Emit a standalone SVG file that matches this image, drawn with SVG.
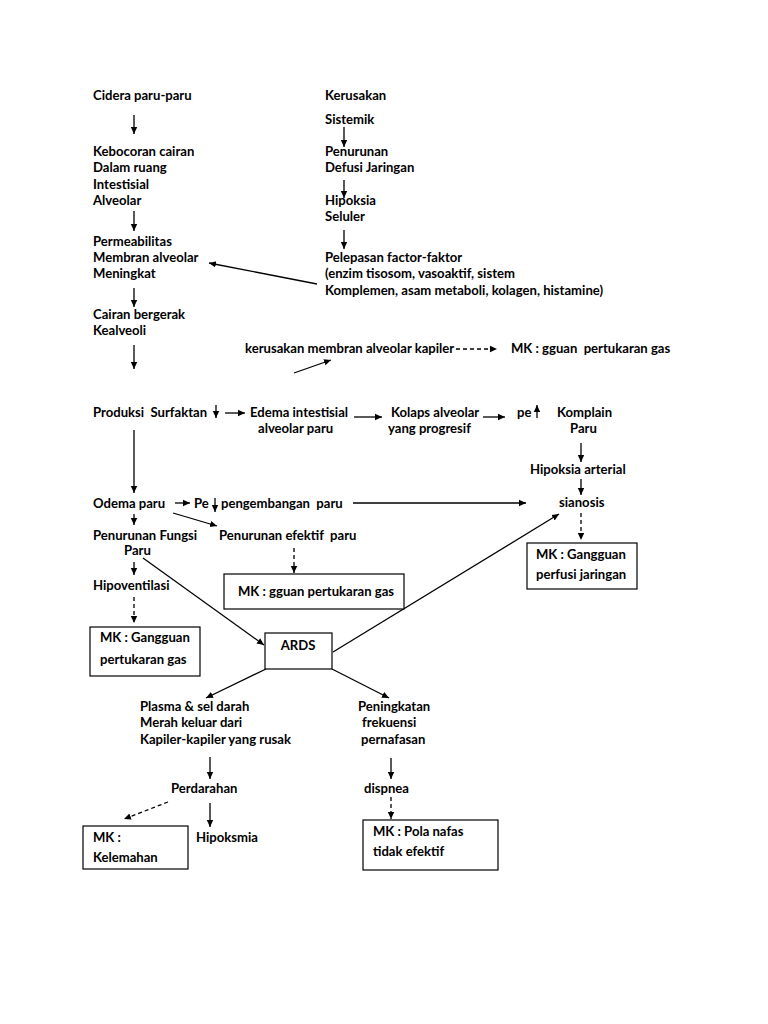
<svg xmlns="http://www.w3.org/2000/svg" width="768" height="1024" viewBox="0 0 768 1024">
<style>
text{font-family:Lato,"Liberation Sans",sans-serif;font-size:13.1px;font-weight:bold;fill:#000;white-space:pre}
.c{stroke:#000;stroke-width:1.3;fill:none}
.d{stroke:#000;stroke-width:1.3;fill:none;stroke-dasharray:4,3}
.b{stroke:#000;stroke-width:1.2;fill:#fff}
</style>
<defs>
<marker id="a" markerWidth="8" markerHeight="8" refX="7" refY="4" orient="auto" markerUnits="userSpaceOnUse">
<path d="M0,0.8 L7,4 L0,7.2 Z" fill="#000"/>
</marker>
</defs>
<rect width="768" height="1024" fill="#fff"/>
<g id="connectors">
<line class="c" x1="134" y1="115" x2="134" y2="134" marker-end="url(#a)"/>
<line class="c" x1="134" y1="211" x2="134" y2="231" marker-end="url(#a)"/>
<line class="c" x1="134" y1="288" x2="134" y2="307" marker-end="url(#a)"/>
<line class="c" x1="134" y1="345" x2="134" y2="369" marker-end="url(#a)"/>
<line class="c" x1="344" y1="127" x2="344" y2="147" marker-end="url(#a)"/>
<line class="c" x1="344" y1="180" x2="344" y2="198" marker-end="url(#a)"/>
<line class="c" x1="344" y1="230" x2="344" y2="249" marker-end="url(#a)"/>
<line class="c" x1="317" y1="284" x2="209" y2="263" marker-end="url(#a)"/>
<line class="d" x1="456" y1="349" x2="497" y2="349" marker-end="url(#a)"/>
<line class="c" x1="294" y1="373" x2="331" y2="360" marker-end="url(#a)"/>
<line class="c" x1="216" y1="405" x2="216" y2="418" marker-end="url(#a)"/>
<line class="c" x1="225" y1="413" x2="245" y2="413" marker-end="url(#a)"/>
<line class="c" x1="354" y1="417" x2="382" y2="417" marker-end="url(#a)"/>
<line class="c" x1="483" y1="417" x2="505" y2="417" marker-end="url(#a)"/>
<line class="c" x1="537" y1="418" x2="537" y2="405" marker-end="url(#a)"/>
<line class="c" x1="581" y1="443" x2="581" y2="462" marker-end="url(#a)"/>
<line class="c" x1="581" y1="479" x2="581" y2="495" marker-end="url(#a)"/>
<line class="d" x1="581" y1="513" x2="581" y2="540" marker-end="url(#a)"/>
<line class="c" x1="134" y1="430" x2="134" y2="493" marker-end="url(#a)"/>
<line class="c" x1="175" y1="503" x2="190" y2="503" marker-end="url(#a)"/>
<line class="c" x1="215" y1="498" x2="215" y2="512" marker-end="url(#a)"/>
<line class="c" x1="353" y1="503" x2="526" y2="503" marker-end="url(#a)"/>
<line class="c" x1="173" y1="513" x2="217" y2="526" marker-end="url(#a)"/>
<line class="c" x1="134" y1="514" x2="134" y2="525" marker-end="url(#a)"/>
<line class="d" x1="294" y1="548" x2="294" y2="573" marker-end="url(#a)"/>
<line class="c" x1="134" y1="562" x2="134" y2="575" marker-end="url(#a)"/>
<line class="d" x1="134" y1="597" x2="134" y2="623" marker-end="url(#a)"/>
<line class="c" x1="143" y1="558" x2="264" y2="645" marker-end="url(#a)"/>
<line class="c" x1="333" y1="652" x2="559" y2="514" marker-end="url(#a)"/>
<line class="c" x1="266" y1="669" x2="206" y2="698" marker-end="url(#a)"/>
<line class="c" x1="332" y1="669" x2="389" y2="698" marker-end="url(#a)"/>
<line class="c" x1="210" y1="757" x2="210" y2="779" marker-end="url(#a)"/>
<line class="d" x1="168" y1="802" x2="124" y2="819" marker-end="url(#a)"/>
<line class="c" x1="210" y1="803" x2="210" y2="827" marker-end="url(#a)"/>
<line class="c" x1="391" y1="758" x2="391" y2="779" marker-end="url(#a)"/>
<line class="d" x1="391" y1="797" x2="391" y2="819" marker-end="url(#a)"/>
</g>
<g id="n1"><text x="93" y="100">Cidera paru-paru</text></g>
<g id="n2"><text x="93" y="156">Kebocoran cairan</text><text x="93" y="172">Dalam ruang</text><text x="93" y="189">Intestisial</text><text x="93" y="205">Alveolar</text></g>
<g id="n3"><text x="93" y="246">Permeabilitas</text><text x="93" y="262">Membran alveolar</text><text x="93" y="278">Meningkat</text></g>
<g id="n4"><text x="93" y="319">Cairan bergerak</text><text x="93" y="335">Kealveoli</text></g>
<g id="n5"><text x="325" y="100">Kerusakan</text><text x="325" y="124">Sistemik</text></g>
<g id="n6"><text x="325" y="156">Penurunan</text><text x="325" y="172">Defusi Jaringan</text></g>
<g id="n7"><text x="325" y="205">Hipoksia</text><text x="325" y="221">Seluler</text></g>
<g id="n8"><text x="325" y="262">Pelepasan factor-faktor</text><text x="325" y="278">(enzim tisosom, vasoaktif, sistem</text><text x="325" y="295">Komplemen, asam metaboli, kolagen, histamine)</text></g>
<g id="n9"><text x="245" y="353">kerusakan membran alveolar kapiler</text></g>
<g id="n10"><text x="511" y="353" xml:space="preserve">MK : gguan  pertukaran gas</text></g>
<g id="n11"><text x="93" y="417" xml:space="preserve">Produksi  Surfaktan</text></g>
<g id="n12"><text x="250" y="417">Edema intestisial</text><text x="258" y="433">alveolar paru</text></g>
<g id="n13"><text x="391" y="417">Kolaps alveolar</text><text x="388" y="433">yang progresif</text></g>
<g id="n14"><text x="517" y="417">pe</text></g>
<g id="n15"><text x="557" y="417">Komplain</text><text x="570" y="433">Paru</text></g>
<g id="n16"><text x="530" y="474">Hipoksia arterial</text></g>
<g id="n17"><text x="559" y="507">sianosis</text></g>
<g id="n18"><rect class="b" x="527" y="543" width="110" height="46"/><text x="536" y="559">MK : Gangguan</text><text x="536" y="579">perfusi jaringan</text></g>
<g id="n19"><text x="93" y="508">Odema paru</text></g>
<g id="n20"><text x="194" y="508">Pe</text><text x="221" y="508" xml:space="preserve">pengembangan  paru</text></g>
<g id="n21"><text x="93" y="540">Penurunan Fungsi</text><text x="124" y="555">Paru</text></g>
<g id="n22"><text x="219" y="540" xml:space="preserve">Penurunan efektif  paru</text></g>
<g id="n23"><rect class="b" x="224" y="574" width="180" height="35"/><text x="238" y="596">MK : gguan pertukaran gas</text></g>
<g id="n24"><text x="93" y="590">Hipoventilasi</text></g>
<g id="n25"><rect class="b" x="90" y="627" width="110" height="49"/><text x="100" y="642">MK : Gangguan</text><text x="100" y="664">pertukaran gas</text></g>
<g id="n26"><rect class="b" x="265" y="633" width="67" height="36"/><text x="298" y="650" text-anchor="middle">ARDS</text></g>
<g id="n27"><text x="140" y="711">Plasma &amp; sel darah</text><text x="140" y="727">Merah keluar dari</text><text x="140" y="744">Kapiler-kapiler yang rusak</text></g>
<g id="n28"><text x="358" y="711">Peningkatan</text><text x="362" y="727">frekuensi</text><text x="361" y="744">pernafasan</text></g>
<g id="n29"><text x="171" y="793">Perdarahan</text></g>
<g id="n30"><text x="364" y="793">dispnea</text></g>
<g id="n31"><rect class="b" x="83" y="826" width="105" height="43"/><text x="93" y="842">MK :</text><text x="93" y="862">Kelemahan</text></g>
<g id="n32"><text x="196" y="842">Hipoksmia</text></g>
<g id="n33"><rect class="b" x="363" y="820" width="135" height="50"/><text x="373" y="836">MK : Pola nafas</text><text x="373" y="856">tidak efektif</text></g>
</svg>
